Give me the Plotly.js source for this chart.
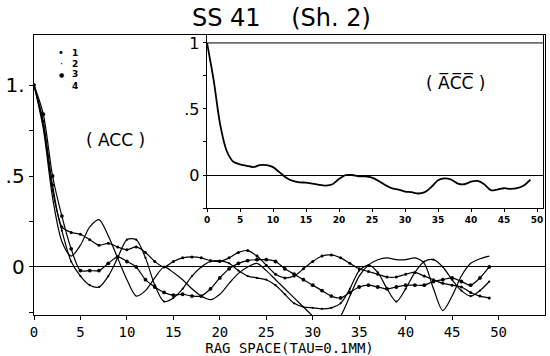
<!DOCTYPE html>
<html><head><meta charset="utf-8">
<script src="https://cdn.plot.ly/plotly-3.0.1.min.js"></script>
<style>body{margin:0;background:#fff}#chart{width:550px;height:356px}</style>
</head><body><div id="chart"></div>
<script>
// lag (tau) values
const lag = [0,1,2,3,4,5,6,7,8,9,10,11,12,13,14,15,16,17,18,19,20,21,22,23,24,25,26,27,28,29,30,31,32,33,34,35,36,37,38,39,40,41,42,43,44,45,46,47,48,49];
// ACC series
const acc1 = [1,.8,.45,.22,.19,.18,.15,.12,.13,.11,.095,.11,.08,.03,0,.03,.05,.055,.05,.035,.03,.05,.08,.09,.06,.01,-.04,-.06,-.05,-.01,.03,.06,.066,.05,.02,-.01,-.025,-.04,-.055,-.055,-.04,-.03,-.05,-.07,-.09,-.1,-.11,-.14,-.16,-.17];
const acc2 = [1,.78,.42,.2,.03,-.05,-.1,-.11,-.05,.05,.15,.15,.05,-.1,-.19,-.17,-.12,-.05,0,.03,.035,.02,-.02,-.05,-.06,-.07,-.1,-.15,-.2,-.22,-.225,-.23,-.225,-.2,-.12,-.02,.01,-.03,-.12,-.19,-.12,-.03,.03,.04,0,-.07,-.13,-.16,-.13,-.08];
const acc3 = [1,.84,.5,.28,.1,-.02,-.02,-.02,.02,.055,.03,0,-.07,-.11,-.14,-.155,-.15,-.16,-.16,-.12,-.06,-.01,.02,.035,.04,.04,.03,-.01,-.04,-.07,-.1,-.13,-.16,-.17,-.14,-.11,-.1,-.11,-.12,-.11,-.1,-.1,-.1,-.08,-.07,-.06,-.08,-.1,-.06,0];
const acc4 = [1,.76,.38,.14,.06,.12,.22,.26,.17,.05,-.07,-.16,-.13,-.06,0,-.03,-.07,-.12,-.16,-.18,-.15,-.09,-.035,0,.02,-.02,-.07,-.12,-.17,-.22,-.27,-.32,-.33,-.27,-.16,-.05,.01,.04,.05,.04,.04,.05,.02,-.12,-.24,-.16,-.05,.02,.045,.06];
// mean ACC (inset)
const accMean = [1,.72,.38,.18,.1,.08,.07,.06,.075,.075,.06,.02,-.02,-.045,-.055,-.058,-.065,-.075,-.08,-.07,-.03,0,0,-.01,-.01,-.02,-.045,-.075,-.1,-.11,-.125,-.13,-.14,-.13,-.09,-.04,-.025,-.035,-.065,-.07,-.05,-.045,-.07,-.115,-.11,-.1,-.105,-.1,-.08,-.035];
const seriesNames = ['1','2','3','4'];
const xTicks = [0,5,10,15,20,25,30,35,40,45,50];
const mainYTickVals = [-0.25,0,0.25,0.5,0.75,1];
const mainYTickText = ['','0','','.5','','1.'];
const insetYTickVals = [-0.25,0,0.25,0.5,0.75,1];
const insetYTickText = ['','0','','.5','','1'];

const hand = {family:'DejaVu Sans', color:'#000'};
const series = [acc1, acc2, acc3, acc4];
const msize = [3, 2.2, 3.8, 0];
const traces = series.map((s,i)=>({
  x: lag, y: s, type:'scatter', name: seriesNames[i],
  mode: msize[i] ? 'lines+markers' : 'lines',
  line:{color:'#000', width:1.2, shape:'spline', smoothing:0.8},
  marker:{color:'#000', size: msize[i]},
  xaxis:'x', yaxis:'y', showlegend:false
}));
traces.push({x: lag, y: accMean, type:'scatter', mode:'lines',
  line:{color:'#000', width:1.8, shape:'spline', smoothing:0.8},
  xaxis:'x2', yaxis:'y2', showlegend:false});

const legendY = [0.936, 0.898, 0.860, 0.818];
const legendSym = ['•','·','●',''];
const legendSymSize = [10, 10, 6, 8];
const ann = [];
seriesNames.forEach((n,i)=>{
  ann.push({xref:'paper', yref:'paper', x:0.070, y:legendY[i], text:'<b>'+n+'</b>', showarrow:false,
    xanchor:'left', yanchor:'middle', font:{family:'DejaVu Sans', size:9, color:'#000'}});
  if (legendSym[i]) ann.push({xref:'paper', yref:'paper', x:0.053, y:legendY[i], text:legendSym[i], showarrow:false,
    xanchor:'center', yanchor:'middle', font:{family:'DejaVu Sans', size:legendSymSize[i], color:'#000'}});
});
ann.push({xref:'paper', yref:'paper', x:0.485, y:1.062, text:'SS 41    (Sh. 2)', showarrow:false,
  xanchor:'center', yanchor:'middle', font:Object.assign({size:24}, hand)});
ann.push({xref:'paper', yref:'paper', x:0.159, y:0.625, text:'( ACC )', showarrow:false,
  xanchor:'center', yanchor:'middle', font:Object.assign({size:17}, hand)});
ann.push({xref:'paper', yref:'paper', x:0.824, y:0.829, text:'( A\u0305C\u0305C\u0305 )', showarrow:false,
  xanchor:'center', yanchor:'middle', font:Object.assign({size:17}, hand)});

const layout = {
  width:550, height:356,
  margin:{l:34, r:5, t:35, b:41},
  paper_bgcolor:'#fff', plot_bgcolor:'#fff',
  showlegend:false,
  xaxis:{domain:[0,1], range:[0,55], anchor:'y', showline:true, linecolor:'#000', linewidth:1.3, mirror:true,
    ticks:'outside', ticklen:4, tickcolor:'#000', tickvals:xTicks, showgrid:false, zeroline:false,
    tickfont:{family:'DejaVu Sans Mono', size:14, color:'#000'},
    title:{text:'RAG SPACE(TAU=0.1MM)', standoff:0, font:{family:'DejaVu Sans Mono', size:14, color:'#000'}}},
  yaxis:{domain:[0,1], range:[-0.264,1.275], anchor:'x', showline:true, linecolor:'#000', linewidth:1.3, mirror:true,
    ticks:'outside', ticklen:4, tickcolor:'#000', tickvals:mainYTickVals, ticktext:mainYTickText, showgrid:false,
    zeroline:true, zerolinecolor:'#000', zerolinewidth:1,
    tickfont:Object.assign({size:20}, hand)},
  xaxis2:{domain:[0.3386,0.996], range:[0,50.9], anchor:'y2', showline:true, linecolor:'#000', linewidth:1.3, mirror:true,
    ticks:'outside', ticklen:3, tickcolor:'#000', tickvals:xTicks, showgrid:false, zeroline:false,
    tickfont:{family:'DejaVu Sans', size:9, weight:'bold', color:'#000'}},
  yaxis2:{domain:[0.382,1], range:[-0.25,1.06], anchor:'x2', showline:true, linecolor:'#000', linewidth:1.3, mirror:true,
    ticks:'outside', ticklen:3, tickcolor:'#000', tickvals:insetYTickVals, ticktext:insetYTickText, showgrid:false,
    zeroline:true, zerolinecolor:'#000', zerolinewidth:1,
    tickfont:Object.assign({size:16}, hand)},
  shapes:[{type:'line', xref:'x2 domain', yref:'y2', x0:0, x1:1, y0:1, y1:1, line:{color:'#000', width:1}}],
  annotations: ann
};
Plotly.newPlot('chart', traces, layout, {displayModeBar:false, staticPlot:true});
</script></body></html>
